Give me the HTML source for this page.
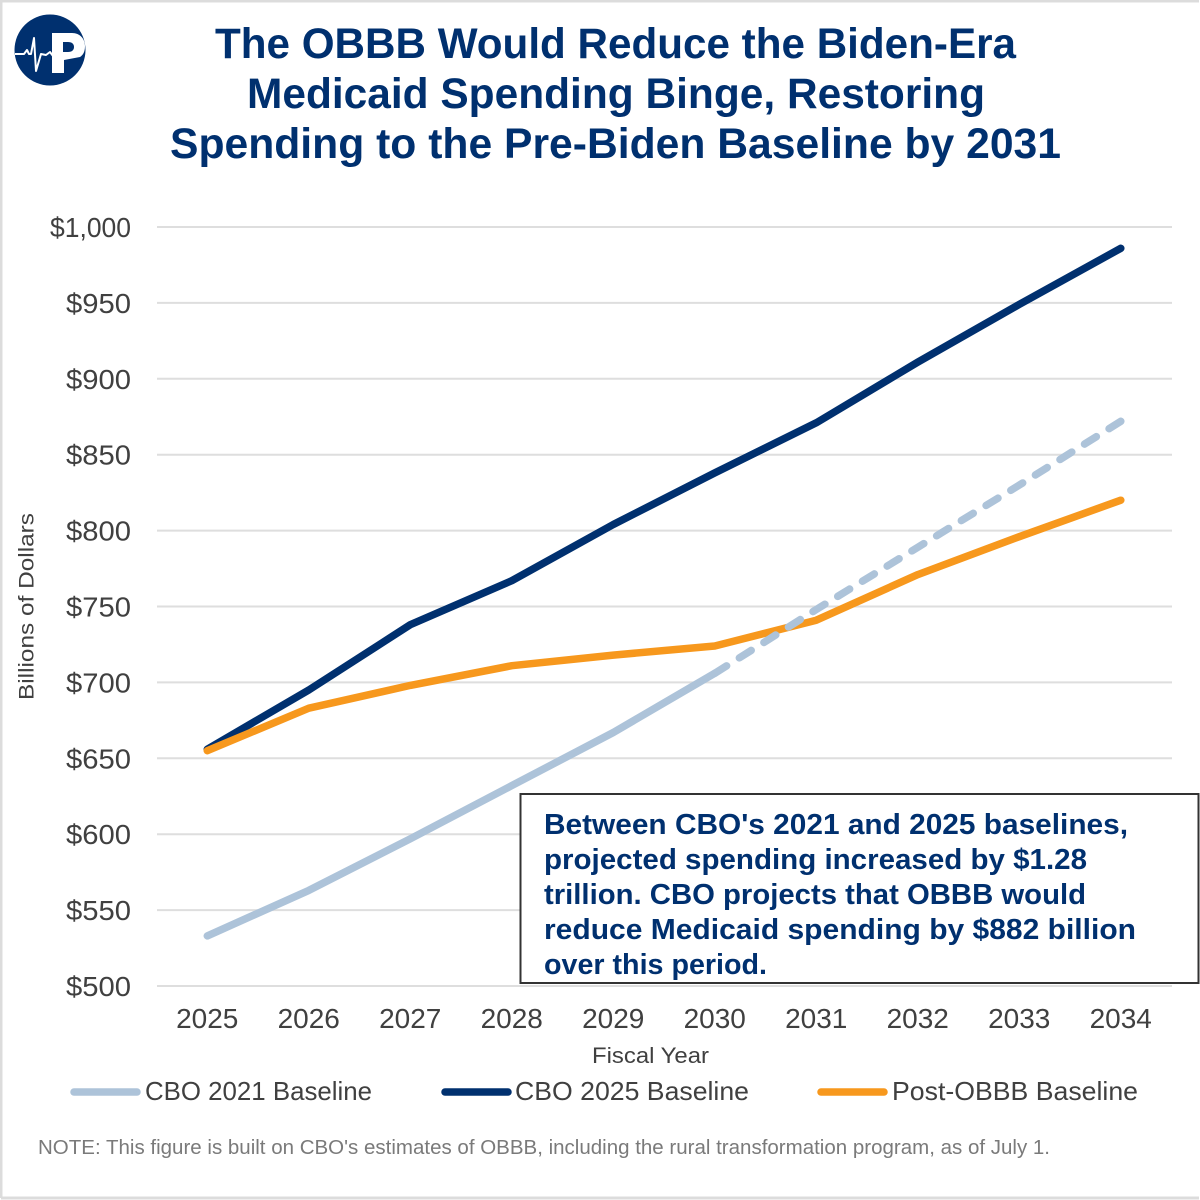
<!DOCTYPE html>
<html lang="en">
<head>
<meta charset="utf-8">
<title>OBBB Medicaid Spending Chart</title>
<style>
html,body{margin:0;padding:0;background:#fff;width:1200px;height:1200px;overflow:hidden}
svg{display:block}
text{font-family:"Liberation Sans",sans-serif}
</style>
</head>
<body>
<svg id="chart" width="1200" height="1200" viewBox="0 0 1200 1200" xmlns="http://www.w3.org/2000/svg">
  <rect x="0" y="0" width="1200" height="1200" fill="#ffffff"/>
  <path d="M1 1198V1H1199M1 1198H1199" fill="none" stroke="#dcdcdc" stroke-width="3"/>

  <g>
    <circle cx="50" cy="50" r="35.5" fill="#00306f"/>
    <path fill-rule="evenodd" fill="#ffffff" d="M52 33H72C80 33 85 39 85 46C85 52 83 55 80 57L64 60V73H52ZM63 42V52H68C72 52 74 50 74 47C74 44 72 42 68 42Z"/>
    <path d="M15 54H24L27 50L29 54H31L34 38L36 71L41 54L46 55L50 52L53 56H80" fill="none" stroke="#ffffff" stroke-width="2" stroke-linejoin="round"/>
  </g>

  <g fill="#00306f" font-weight="700" font-size="43">
    <text x="215" y="58" textLength="801" lengthAdjust="spacingAndGlyphs">The OBBB Would Reduce the Biden-Era</text>
    <text x="247" y="108" textLength="738" lengthAdjust="spacingAndGlyphs">Medicaid Spending Binge, Restoring</text>
    <text x="170" y="158" textLength="891" lengthAdjust="spacingAndGlyphs">Spending to the Pre-Biden Baseline by 2031</text>
  </g>

  <g id="grid"></g>
  <g id="yticks"></g>
  <g id="xticks"></g>
  <g id="lines"></g>

  <text transform="translate(33.5 606.5) rotate(-90)" text-anchor="middle" font-size="21" fill="#404040" textLength="187" lengthAdjust="spacingAndGlyphs">Billions of Dollars</text>
  <text x="592" y="1063" font-size="22" fill="#404040" textLength="117" lengthAdjust="spacingAndGlyphs">Fiscal Year</text>

  <g>
    <rect x="520.5" y="794" width="678" height="189" fill="#ffffff" stroke="#333333" stroke-width="2"/>
    <g fill="#00306f" font-weight="700" font-size="28.5">
      <text x="544" y="834" textLength="584" lengthAdjust="spacingAndGlyphs">Between CBO's 2021 and 2025 baselines,</text>
      <text x="544" y="869" textLength="543" lengthAdjust="spacingAndGlyphs">projected spending increased by $1.28</text>
      <text x="544" y="904" textLength="542" lengthAdjust="spacingAndGlyphs">trillion. CBO projects that OBBB would</text>
      <text x="544" y="939" textLength="592" lengthAdjust="spacingAndGlyphs">reduce Medicaid spending by $882 billion</text>
      <text x="544" y="974" textLength="223" lengthAdjust="spacingAndGlyphs">over this period.</text>
    </g>
  </g>

  <g font-size="26" fill="#404040">
    <g>
      <line x1="74" y1="1092" x2="137" y2="1092" stroke="#adc3d9" stroke-width="7.5" stroke-linecap="round"/>
      <text x="145" y="1100" textLength="227" lengthAdjust="spacingAndGlyphs">CBO 2021 Baseline</text>
    </g>
    <g>
      <line x1="445" y1="1092" x2="508" y2="1092" stroke="#00306f" stroke-width="7.5" stroke-linecap="round"/>
      <text x="515" y="1100" textLength="234" lengthAdjust="spacingAndGlyphs">CBO 2025 Baseline</text>
    </g>
    <g>
      <line x1="821" y1="1092" x2="884" y2="1092" stroke="#f7981d" stroke-width="7.5" stroke-linecap="round"/>
      <text x="892" y="1100" textLength="246" lengthAdjust="spacingAndGlyphs">Post-OBBB Baseline</text>
    </g>
  </g>

  <text x="38" y="1154" font-size="20.5" fill="#7a7a7a" textLength="1012" lengthAdjust="spacingAndGlyphs">NOTE: This figure is built on CBO's estimates of OBBB, including the rural transformation program, as of July 1.</text>
</svg>
<script>
const years = [2025, 2026, 2027, 2028, 2029, 2030, 2031, 2032, 2033, 2034];
const yTickValues = [500, 550, 600, 650, 700, 750, 800, 850, 900, 950, 1000];
const yTickLabels = ["$500", "$550", "$600", "$650", "$700", "$750", "$800", "$850", "$900", "$950", "$1,000"];
const cbo2021 = [533, 563, 597, 632, 667, 706, 748, 789, 830, 872];
const cbo2025 = [656, 695, 738, 767, 804, 838, 871, 911, 949, 986];
const postObbb = [655, 683, 698, 711, 718, 724, 741, 771, 796, 820];
const solidUntilYear = 2030;

const NS = "http://www.w3.org/2000/svg";
const plotLeft = 157, plotRight = 1172, plotTop = 227, plotBottom = 986;
const yMin = 500, yMax = 1000;

function xScale(i) {
  const band = (plotRight - plotLeft) / years.length;
  return plotLeft + band * (i + 0.5) - 0.5;
}
function yScale(v) {
  return plotBottom - (v - yMin) / (yMax - yMin) * (plotBottom - plotTop);
}
function pathFor(values, from, to) {
  let d = "";
  for (let i = from; i <= to; i++) {
    d += (i === from ? "M" : "L") + xScale(i).toFixed(1) + " " + yScale(values[i]).toFixed(1);
  }
  return d;
}

const grid = document.getElementById("grid");
const yticks = document.getElementById("yticks");
yTickValues.forEach(function (v, i) {
  const line = document.createElementNS(NS, "line");
  
  
  line.setAttribute("x1", plotLeft);
  line.setAttribute("x2", plotRight);
  line.setAttribute("y1", yScale(v));
  line.setAttribute("y2", yScale(v));
  line.setAttribute("stroke", "#dedede");
  line.setAttribute("stroke-width", "2");
  grid.appendChild(line);

  const label = document.createElementNS(NS, "text");
  
  
  label.setAttribute("x", 131);
  label.setAttribute("y", yScale(v) + 10);
  label.setAttribute("text-anchor", "end");
  label.setAttribute("font-size", "28");
  label.setAttribute("fill", "#404040");
  label.setAttribute("textLength", yTickLabels[i].length > 4 ? 81 : 65);
  label.setAttribute("lengthAdjust", "spacingAndGlyphs");
  label.textContent = yTickLabels[i];
  yticks.appendChild(label);
});

const xticks = document.getElementById("xticks");
years.forEach(function (year, i) {
  const label = document.createElementNS(NS, "text");
  
  
  label.setAttribute("x", xScale(i));
  label.setAttribute("y", 1028);
  label.setAttribute("text-anchor", "middle");
  label.setAttribute("font-size", "28");
  label.setAttribute("fill", "#404040");
  label.textContent = year;
  xticks.appendChild(label);
});

const lines = document.getElementById("lines");
function addPath(d, color, dash) {
  const p = document.createElementNS(NS, "path");
  p.setAttribute("d", d);
  p.setAttribute("fill", "none");
  p.setAttribute("stroke", color);
  p.setAttribute("stroke-width", "7.5");
  p.setAttribute("stroke-linecap", "round");
  p.setAttribute("stroke-linejoin", "round");
  if (dash) p.setAttribute("stroke-dasharray", dash);
  lines.appendChild(p);
  return p;
}
const lastIndex = years.length - 1;
const splitIndex = years.indexOf(solidUntilYear);

const line2025 = addPath(pathFor(cbo2025, 0, lastIndex), "#00306f");



const linePost = addPath(pathFor(postObbb, 0, lastIndex), "#f7981d");



const line2021 = addPath(pathFor(cbo2021, 0, splitIndex), "#adc3d9");



const line2021Dash = addPath(pathFor(cbo2021, splitIndex, lastIndex), "#adc3d9", "14 15");


</script>
</body>
</html>
